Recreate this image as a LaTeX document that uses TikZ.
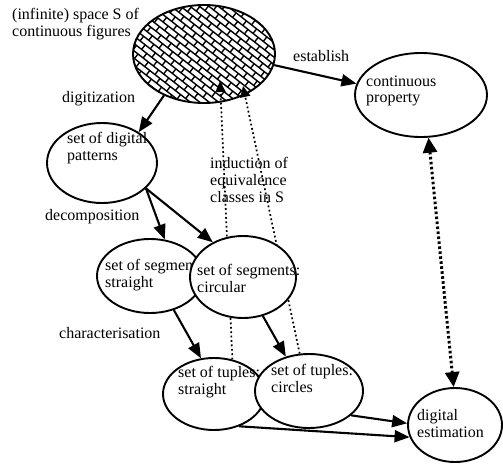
\documentclass[tikz,border=0pt]{standalone}
\usepackage{fontspec}
\setmainfont{Liberation Serif}
\usepackage{tikz}
\usetikzlibrary{arrows.meta,shapes.geometric,calc}
\tikzset{
  oval/.style n args={2}{ellipse,draw=black,line width=1.9pt,fill=white,inner sep=0pt,minimum width=#1,minimum height=#2},
  ovaltext/.style={font=\fontsize{16}{17}\selectfont,align=left,anchor=base west,inner sep=0pt},
  lbl/.style={ovaltext},
  arrow/.style={-{Triangle[length=15pt,width=12pt]},line width=2.1pt},
  dotarrow/.style={-{Triangle[length=11pt,width=10pt]},line width=1.7pt,dash pattern=on 1.8pt off 2.6pt},
  thickdot/.style={{Triangle[length=15pt,width=14pt]}-{Triangle[length=15pt,width=14pt]},line width=3pt,dash pattern=on 2.6pt off 2.4pt},
  brick/.style={line width=1.4pt},
}

\begin{document}
\begin{tikzpicture}[x=1pt,y=1pt]
  \useasboundingbox (0,0) rectangle (503,467);
  \node[lbl] (title) at (12,430) {(infinite) space S of\\continuous figures};
  \begin{scope}
    \clip (204,413) ellipse [x radius=71,y radius=49];
    \begin{scope}[shift={(204,413)},rotate=-38]
      \foreach \r in {-16,...,16}{
        \draw[brick] (-90,\r*5.8) -- (90,\r*5.8);
        \pgfmathsetmacro\off{mod(\r+20,2)*6.5}
        \foreach \c in {-7,...,7}
          \draw[brick] (\c*13+\off,\r*5.8) -- ++(0,5.8);
      }
    \end{scope}
  \end{scope}
  \node[oval={142}{98},fill=none] (S) at (204,413) {};

  \node[oval={102}{72}] (TS) at (214,73) {};
  \node[ovaltext] (tsText) at (178,73) {set of tuples:\\straight};
  \node[oval={108}{74}] (TC) at (309,76) {};
  \node[ovaltext] (tcText) at (271,75) {set of tuples:\\circles};
  \coordinate (inS1) at (220,386);
  \coordinate (inS2) at (243,381);
  \draw[dotarrow] (TS.62) -- (inS1);
  \draw[dotarrow] (TC.104) -- (inS2);

  \node[oval={106}{74}] (SS) at (150,191) {};
  \node[ovaltext] (ssText) at (105,180) {set of segments:\\straight};
  \node[oval={106}{82}] (SC) at (243,190) {};
  \node[ovaltext] (scText) at (197,175) {set of segments:\\circular};
  \node[oval={110}{80}] (DP) at (102,304) {};
  \node[ovaltext] (dpText) at (67,307) {set of digital\\patterns};
  \node[oval={132}{84}] (CP) at (421,372) {};
  \node[ovaltext] (cpText) at (366,364) {continuous\\property};
  \node[oval={94}{74}] (DE) at (455,42) {};
  \node[ovaltext] (deText) at (417,30) {digital\\estimation};

  \node[lbl] (establish) at (293,405) {establish};
  \node[lbl] (digitization) at (62,364) {digitization};
  \node[lbl] (decomposition) at (45,247) {decomposition};
  \node[lbl] (characterisation) at (59,129) {characterisation};
  \node[lbl] (induction) at (210,265) {induction of\\equivalence\\classes in S};

  \draw[arrow] (S.226) -- (DP.40);
  \draw[arrow] (S.-9) -- (CP.170);
  \draw[arrow] (DP.-30) -- (SS.68);
  \draw[arrow] (DP.-30) -- (SC.131);
  \draw[arrow] (SS.-55) -- (TS.110);
  \draw[arrow] (SC.-63) -- (TC.124);
  \draw[arrow] (TS.-52) -- (DE.195);
  \draw[arrow] (TC.-30) -- (DE.178);
  \draw[thickdot] (CP.-80) -- (DE.92);
\end{tikzpicture}
\end{document}
